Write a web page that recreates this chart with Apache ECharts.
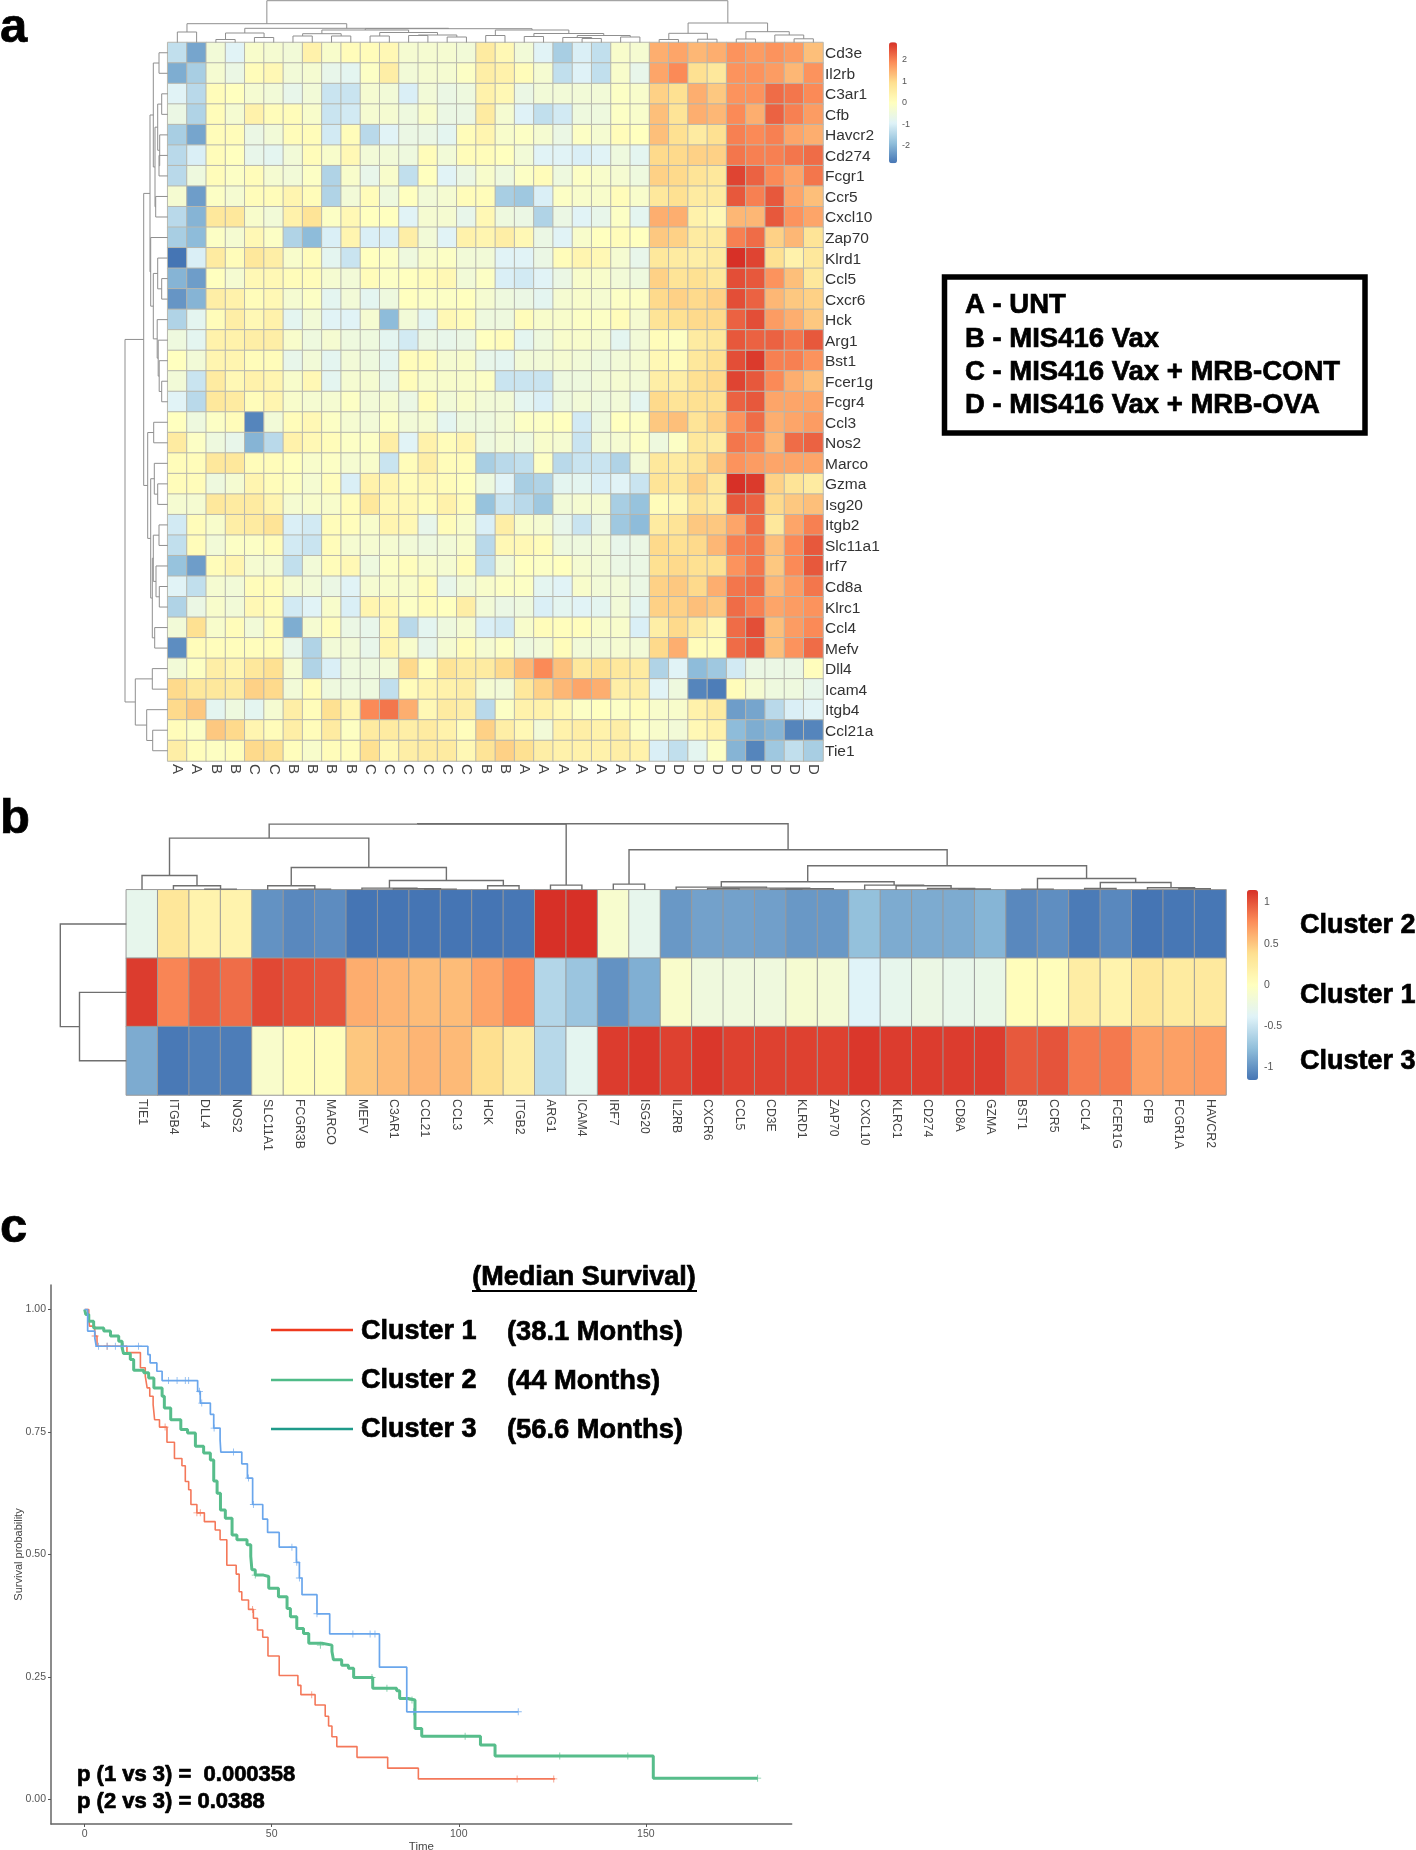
<!DOCTYPE html>
<html><head><meta charset="utf-8">
<script src="https://cdn.jsdelivr.net/npm/echarts@6/dist/echarts.min.js"></script>
<style>html,body{margin:0;padding:0;background:#fff}#c{width:1416px;height:1850px}</style>
</head><body><div id="c"></div>
<script>
// ---------- DATA: panel a ----------
const genesA=['Cd3e','Il2rb','C3ar1','Cfb','Havcr2','Cd274','Fcgr1','Ccr5','Cxcl10','Zap70','Klrd1','Ccl5','Cxcr6','Hck','Arg1','Bst1','Fcer1g','Fcgr4','Ccl3','Nos2','Marco','Gzma','Isg20','Itgb2','Slc11a1','Irf7','Cd8a','Klrc1','Ccl4','Mefv','Dll4','Icam4','Itgb4','Ccl21a','Tie1'];
const samplesA=['A','A','B','B','C','C','B','B','B','B','C','C','C','C','C','C','B','B','A','A','A','A','A','A','A','D','D','D','D','D','D','D','D','D'];
const valuesA=[
[-1.3,-2.2,-.4,-.9,-.2,-.3,-.4,.4,-.2,.1,.1,.2,-.3,-.3,-.3,-.4,.6,.2,-.4,-.9,-1.6,-1,-1.3,-.2,-.3,1.5,1.6,1.4,1.5,1.8,1.7,1.8,1.7,1.3],
[-2.1,-1.6,-.3,-.6,.1,.2,-.4,-.3,-.7,-.8,-.1,.5,-.4,-.3,-.3,-.1,.5,.4,.1,-.3,-1.3,-.95,-1.3,-.2,-.7,1.6,1.9,.9,.7,1.8,1.8,1.7,1.4,1.8],
[-.9,-1.4,.1,0,-.3,-.4,-.7,-.4,-1.2,-1.2,-.3,-.4,-1,-.4,-.6,-.5,.4,.2,-.6,-.4,-.4,-.4,-.4,-.1,-.2,1.1,.9,1.5,1.2,1.8,1.8,2.2,2.1,1.9],
[-.6,-1.5,.1,-.3,.4,.1,.1,-.2,-1.2,-1.1,-.3,-.3,-.5,-.2,-.6,-.6,.6,-.3,-.95,-1.3,-1.1,-.5,-.5,-.1,-.2,1.3,.8,1.5,1.4,1.9,1.5,2.3,2,1.7],
[-1.6,-2.2,.1,.1,-.6,-.4,.1,.1,-1.1,.1,-1.4,-.9,-.6,-.6,-.8,.1,.3,-.2,-.1,-.3,-.6,-.1,-.3,.1,0,1.3,.9,.6,.9,2,1.9,2,1.6,1.5],
[-1.4,-1,.1,0,-.7,-.8,-.4,.1,-.2,.2,-.4,-.4,-.5,.1,-.4,.1,.1,0,-.4,-.9,-.9,-1,-.9,-.5,-.8,1,1,1.1,1.1,2.1,2,2,2.1,2.2],
[-1.4,-.5,.1,-.1,.1,-.3,-.4,-.1,-1.5,-.2,-.7,-.2,-1.3,0,-.9,-.6,-.2,-.5,-.1,.1,-.5,-.1,-.2,-.3,-.5,1.1,1,.8,.7,2.6,2.3,1.9,1.6,2.1],
[-.3,-2.3,-.1,-.3,.1,.1,.3,.1,-1.5,-.4,.1,-.5,0,-.4,-.3,.1,.1,-1.6,-1.7,-1,-.1,-.2,-.2,.1,-.2,.7,.9,.6,.6,2.4,2,2.4,1.6,1.3],
[-1.4,-2,.7,.7,-.2,-.4,.4,.8,-.1,.2,0,0,-.9,-.3,-.3,-.7,.2,-.5,-.6,-1.5,-.6,-.9,-.7,-.1,-.8,1.5,1.5,.4,.2,1.4,1.4,2.4,1.8,1.6],
[-1.6,-1.9,-.1,-.3,.2,-.1,-1.5,-1.9,-1,.3,-1,-1,.5,-.4,-.9,.4,.3,.5,.2,-.6,-.9,-.2,0,.1,0,1.2,1.1,.6,.6,2,2.2,1.1,1.4,.8],
[-2.8,-1,.6,.1,.7,.5,-.2,.1,-.8,-1.2,0,-.1,-.5,-.2,-.1,-.4,-.4,-.9,-.9,-.6,.1,.3,.2,-.3,-.7,.7,.6,.5,.6,2.8,2.6,.9,.4,.7],
[-2,-2.3,0,-.3,.2,.2,.1,.1,-.3,-.4,.1,-.1,0,.1,.2,-.4,-.1,-1,-1.1,-.9,-.6,-.2,-.2,-.4,-.5,1.1,.8,.9,.7,2.5,2.4,1.8,1.3,.7],
[-2.4,-2,.5,.4,.1,.2,-.3,-.1,-.8,-.4,-.8,-.5,0,-.1,-.1,0,-.3,-.5,-.6,-.8,-.3,-.2,-.3,-.1,-.1,1,1.1,1,1.1,2.5,2.3,1.4,1.2,1.1],
[-1.5,-.8,.1,.5,.2,.4,-.8,-.4,-.9,-.9,-.3,-1.9,-.4,-.8,.2,.1,-.5,-.5,.1,-.2,-.2,-.1,-.1,.1,-.3,.8,.9,1,1,2.3,2.5,1.7,1.5,1.2],
[-.5,-.8,.4,.4,.5,.5,-.2,-.5,-.3,-.5,-.5,-.8,-1.1,-.6,-.7,-.6,0,.1,-.8,-.5,-.2,-.2,-.3,-.8,-.4,.1,-.05,.6,.7,2.4,2.3,2.3,2.1,2.4],
[0,-.4,.3,.3,.1,.1,-.7,-.4,-.8,-.4,-.5,-.8,.1,.1,-.3,-.2,-.7,-.8,-.4,-.4,-.3,-.4,-.5,-.4,-.3,.2,.1,.7,.9,2.5,2.7,2,2,1.8],
[-.4,-1.2,.6,.2,.4,.3,-.2,.2,-.8,-.3,-.3,-.7,.1,-.2,-.2,-.2,-.1,-1.2,-1.2,-1.2,-.5,-.5,-.4,-.3,-.4,.5,.5,.9,1,2.6,2.4,1.9,1.5,1.3],
[-.9,-1.4,.7,.6,.1,.3,-.2,-.3,-.3,-.1,-.4,-.3,-.6,.1,-.4,-.2,-.4,-.4,-.8,-1,-.5,-.4,-.5,-.4,-.8,1,.8,.9,.9,2.3,2.4,1.6,1.6,1.6],
[0,-.5,-.1,.1,-2.6,-.4,.1,.2,-.1,-.3,-.4,-.1,-.4,-.3,-.8,-.5,-.5,-.4,-.1,-.1,0,-1.1,-.5,0,-.1,1.2,1.3,.8,1.1,1.8,2.2,1.5,1.6,1.7],
[.6,-.1,-.5,-.7,-2,-1.4,.4,.2,.1,-.1,-.1,.5,-.9,.4,.1,.3,-.5,-.4,-.5,-.2,-.3,-1.2,-.4,-.3,-.1,-.5,-.1,.7,.6,2.1,2,1.4,2.2,2.3],
[.1,.1,.7,.7,.1,.1,0,-.2,-.1,-.3,-.2,-1.2,.1,.5,.1,.1,-1.6,-1.4,-1.3,-.1,-1.4,-1.2,-1.2,-1.5,-.4,.7,.6,.8,1.2,1.8,1.7,1.6,1.6,1.6],
[.1,.1,-.5,-.3,.3,.1,-.05,-.3,.05,-1,.4,.3,.1,.2,.1,0,-.5,-.9,-1.6,-1.5,-.8,-.8,-1,-.9,-1.2,.8,.7,1.1,.7,2.8,2.7,1.1,.8,.6],
[-.3,-.3,.7,.6,.6,.3,-.3,-.2,-.2,.1,.7,.2,.2,.1,.4,.1,-1.8,-1.2,-1.4,-1.7,-.4,-.3,-.3,-1.6,-1.8,.1,.2,.8,.6,2.4,2.3,1,1.2,1.3],
[-1.1,.1,-.2,.5,.6,.8,-1,-1.1,.1,.05,-.2,.3,.2,-.7,.1,-.2,-1,.5,-.2,-.3,-.7,-1.2,-.6,-1.7,-1.9,.6,.8,1.2,1.2,1.6,2.2,.7,1.6,2],
[-1.3,.1,-.4,-.1,-.1,.1,-1.1,-1.2,.1,-.3,-.3,-.3,-.4,-.5,-.4,-.2,-1.4,.2,.2,.1,-.5,-.5,-.4,-.7,-.6,1,.9,1,1.4,2,2.1,1.3,1.9,2.4],
[-1.8,-2.3,.1,.3,-.3,-.3,-1.3,-.4,.1,.2,-.5,-.1,.05,-.2,-.3,.1,-1.3,-.4,0,-.1,0,-.3,-.4,-.6,-.6,.9,1,.9,.9,1.8,2.1,1.2,1.9,2.4],
[-.9,-1.3,-.3,-.4,.1,.1,-.3,-.4,-.6,-.9,-.3,-.2,-.2,.1,-.7,-.4,-.2,-.1,-.1,-.8,-.9,-.2,-.4,-.4,-.6,1.1,1.2,1,1.5,2.1,2.2,1.4,1.7,2.1],
[-1.5,-.6,-.2,-.4,.2,.1,-1.1,-.9,-.2,-1,.3,.2,-.1,.1,0,.5,-.4,-.6,-.5,-1,-.8,-.9,-.8,-.4,-.8,1.1,1.1,1.3,1.2,2.2,2,1.6,1.7,1.8],
[-.4,.9,-.2,.1,-.4,.1,-2.1,-.3,.05,-.6,-.7,.2,-1.4,-.8,-.5,-.3,-1,-1.1,-.2,.1,.05,.05,-.2,-.2,-1,.5,1,.6,.2,2.2,2.5,1.3,1.7,1.9],
[-2.5,.1,.05,.05,.05,.1,-.7,-1.5,-.4,-.4,-.7,.3,-.2,-.7,-.3,.1,-.3,-.1,-.5,-.4,.1,-.4,-.4,-.3,-.4,1,1.5,.1,.1,2.2,2.4,1.3,1.8,2.2],
[-.4,-.05,.5,.3,.7,.9,-.3,-1.5,-1,-.5,-.5,-.4,1,.05,.8,.6,.6,1,1.4,1.9,1.3,.7,.9,.7,.6,-1.5,-.9,-1.9,-1.7,-1.1,-.6,-.6,-.6,.05],
[1,.7,.7,.6,1.1,1,-.4,.1,-.5,-.5,-.5,-1.3,.1,.3,.4,.5,-.3,-.4,.7,1.1,1.4,1.6,1.5,.5,.5,-.9,-.5,-2.6,-2.7,.1,-.3,-.5,-.5,-.7],
[1,1.2,-.8,-.5,-.8,-.3,.5,.1,.9,.3,1.9,2.1,1.5,.2,.6,.5,-1.4,-.1,.4,.4,.2,-.1,0,-.1,.05,-.2,-.2,.4,.6,-2.3,-2.2,-1.4,-1,-.9],
[.1,-.1,1.2,1,.3,.1,.5,.1,.6,-.05,.6,.6,.5,.6,.4,.05,1.1,.5,.2,-.4,.4,.5,.4,.5,-.1,-.2,-.4,.2,.4,-1.9,-2.1,-2,-2.6,-2.6],
[.5,.05,-.05,.05,1,.9,.05,-.2,.1,.05,.9,.2,.5,.6,.6,.2,.8,1.1,.9,.5,.4,.4,.4,.5,.4,-1,-1.3,-.8,-.1,-2,-2.6,-1.7,-1.3,-1.6]
];
// dendrograms as nested [height, left, right]; a bare number is a leaf index
const colTreeA=[41.8,
 [18.8,[10.5,0,1],
  [14.2,[9.5,[3,2,3],[5,4,5]],
   [13.8,
    [12.5,[8.8,[6.5,6,7],[6.5,8,9]],[10,[6.5,10,11],[7.5,[7,12,13],[5.5,14,15]]]],
    [12.5,[7,16,17],[9,[6,18,19],[7,[5,20,[4,21,22]],[5.5,23,24]]]]]]],
 [19.5,[9.2,[3,25,26],[3.3,27,28]],[10.8,[3.5,29,30],[7.5,31,[3.7,32,33]]]]];
const rowTreeA=[42.7,
 [24,
  [17.7,
   [14.4,[8.7,0,1],[12.7,[10,[6,2,3],[8,4,[8.7,5,6]]],[12,7,8]]],
   [17,9,[14.4,[10,10,[6,11,12]],[10.5,13,[9.5,14,[8.5,15,[6,16,17]]]]]]],
  [20,[14,18,19],[17,[13.4,20,[10,21,22]],[15.4,[14.4,[8.7,23,24],[11.7,25,[8.4,26,27]]],[13,28,29]]]]],
 [32.4,[15.4,30,31],[21,32,[15,33,34]]]];
const legendTicksA=[-2,-1,0,1,2];
const samplesKey=['A - UNT','B - MIS416 Vax','C - MIS416 Vax + MRB-CONT','D - MIS416 Vax + MRB-OVA'];

// ---------- DATA: panel b ----------
const genesB=['TIE1','ITGB4','DLL4','NOS2','SLC11A1','FCGR3B','MARCO','MEFV','C3AR1','CCL21','CCL3','HCK','ITGB2','ARG1','ICAM4','IRF7','ISG20','IL2RB','CXCR6','CCL5','CD3E','KLRD1','ZAP70','CXCL10','KLRC1','CD274','CD8A','GZMA','BST1','CCR5','CCL4','FCER1G','CFB','FCGR1A','HAVCR2'];
const clustersB=['Cluster 2','Cluster 1','Cluster 3'];
const cluster2=[-.3,.3,.15,.15,-1,-1.05,-1.03,-1.15,-1.15,-1.15,-1.15,-1.15,-1.14,1.15,1.15,-.1,-.3,-.97,-.92,-.92,-.93,-.97,-.97,-.75,-.87,-.87,-.87,-.82,-1.05,-1.02,-1.12,-1.05,-1.15,-1.14,-1.14];
const cluster1=[1.1,.8,.95,.9,1.05,1.02,1,.62,.58,.55,.55,.66,.78,-.6,-.72,-1,-.85,-.08,-.2,-.2,-.2,-.12,-.15,-.38,-.3,-.25,-.28,-.27,.03,.03,.22,.15,.3,.25,.27];
const cluster3=[-.87,-1.13,-1.1,-1.11,-.08,.03,.03,.5,.55,.58,.56,.38,.22,-.58,-.33,1.1,1.12,1.08,1.12,1.08,1.08,1.08,1.08,1.12,1.1,1.1,1.1,1.1,.98,1,.85,.85,.68,.68,.7];
const colTreeB=[66,
 [65.7,
  [51.7,
   [14.3,0,[4,1,[.7,2,3]]],
   [22.3,[4,4,[.7,5,6]],[9.3,[1.7,7,[1,8,[.7,9,10]]],[4,11,12]]]],
  [4.7,13,14]],
 [40,[5.7,15,16],
  [24,
   [8,[2.7,17,[1.7,[1.2,18,19],[1,[.7,20,21],22]]],[4.7,23,[4,24,[1.3,25,[.8,26,27]]]]],
   [11.3,[.7,28,29],[7.3,[1.3,30,31],[2,32,[1,33,34]]]]]]];
const rowTreeB=[66,0,[46.8,1,2]];
const legendTicksB=[-1,-.5,0,.5,1];

// ---------- DATA: panel c ----------
const curve1=[[0,1],[1.1,.98],[1.3,.966],[2.7,.946],[3.3,.925],[11.3,.912],[14.9,.881],[16.2,.864],[16.7,.84],[17.4,.823],[18.3,.806],[18.7,.775],[20,.76],[22,.729],[24,.696],[26,.681],[26.9,.649],[27.8,.632],[28.4,.602],[30,.585],[32,.567],[34.9,.55],[36.2,.53],[38,.478],[40.5,.46],[41.3,.424],[42,.407],[43.8,.388],[45.1,.37],[46.2,.346],[47.6,.331],[49,.293],[52,.253],[57,.233],[57.8,.214],[61.6,.193],[64.3,.17],[65.2,.15],[66.1,.128],[67.4,.108],[72.8,.086],[81,.064],[89.2,.042],[125.7,.042]];
const curve2=[[0,1],[.3,.99],[1.1,.976],[2.4,.962],[5.1,.956],[6.9,.946],[9.1,.935],[10,.922],[10.4,.91],[12.2,.898],[13.1,.876],[15.8,.871],[17.1,.86],[18.5,.84],[20.7,.823],[21.3,.799],[23,.775],[25.7,.755],[27.5,.748],[29.6,.721],[31.8,.707],[33.6,.693],[34.5,.65],[35.4,.625],[36.3,.591],[37.6,.574],[39.4,.54],[40.7,.53],[43.4,.52],[44.4,.496],[44.7,.469],[45.6,.458],[47.8,.455],[49.2,.431],[51.8,.414],[54.1,.39],[55,.373],[56.7,.349],[58.5,.339],[59.9,.319],[63.4,.315],[66.1,.302],[66.5,.285],[68.7,.274],[70.5,.268],[71.9,.249],[77,.227],[83.4,.222],[84.2,.206],[86.5,.203],[88.3,.145],[90.1,.129],[105.8,.111],[109.7,.089],[152,.0435],[179.9,.0435]];
const curve3=[[0,1],[.8,.956],[2.7,.942],[3.1,.925],[16.9,.908],[17.5,.891],[19.3,.874],[20.7,.855],[30.2,.833],[30.9,.809],[33.6,.786],[34.5,.758],[36.2,.734],[36.4,.709],[42,.685],[43.5,.656],[44.9,.602],[47.6,.572],[48.9,.545],[52,.515],[56.6,.484],[57.4,.452],[58.1,.418],[62.1,.379],[65.5,.338],[78.8,.27],[86.1,.179],[115.9,.179]];
const censor1=[[2.8,.946],[6,.925],[21.5,.76],[30,.585],[30.9,.585],[44.9,.388],[60.7,.214],[115.6,.042],[125.4,.042]];
const censor2=[[45.6,.458],[63,.315],[76.8,.249],[80.8,.227],[87.5,.203],[101.7,.129],[127,.089],[145.2,.089],[179.9,.0435]];
const censor3=[[3.7,.925],[6,.925],[8.2,.925],[10.4,.925],[14.4,.925],[22.4,.855],[24.7,.855],[26.9,.855],[27.8,.855],[30.7,.833],[31.3,.809],[34.6,.758],[39.8,.709],[43.8,.656],[45.1,.602],[55.4,.515],[56.7,.484],[57.4,.452],[62.1,.379],[71.7,.338],[76.3,.338],[77.6,.338],[87.9,.179],[115.9,.179]];
const timeTicks=[0,50,100,150];
const probTicks=[0,.25,.5,.75,1];
const legendRows=[['Cluster 1','(38.1 Months)'],['Cluster 2','(44 Months)'],['Cluster 3','(56.6 Months)']];
const pTexts=['p (1 vs 3) =  0.000358','p (2 vs 3) = 0.0388'];

// ---------- helpers ----------
const FONT='"Liberation Sans",Arial,sans-serif';
const RDYLBU=['#4575B4','#91BFDB','#E0F3F8','#FFFFBF','#FEE090','#FC8D59','#D73027'];
function flatten(node,out){
  if(typeof node==='number') return {p:node+.5,h:0};
  const l=flatten(node[1],out), r=flatten(node[2],out);
  out.push([l.p,l.h,r.p,r.h,node[0]]);
  return {p:(l.p+r.p)/2,h:node[0]};
}
function treeData(t){const o=[];flatten(t,o);return o;}
function dendro(tree,xi,yi,horizontal,color,width){
  return {type:'custom',coordinateSystem:'cartesian2d',xAxisIndex:xi,yAxisIndex:yi,silent:true,clip:false,
    data:treeData(tree),
    renderItem:function(p,api){
      const a=api.value(0),ah=api.value(1),b=api.value(2),bh=api.value(3),h=api.value(4);
      const pts=(horizontal?[[ah,a],[h,a],[h,b],[bh,b]]:[[a,ah],[a,h],[b,h],[b,bh]]).map(q=>api.coord(q));
      return {type:'polyline',shape:{points:pts},style:{stroke:color,lineWidth:width,fill:null}};
    }};
}
const grids=[],xAxes=[],yAxes=[],series=[];
function addGrid(g,x,y){grids.push(Object.assign({outerBoundsMode:'none'},g));xAxes.push(Object.assign({gridIndex:grids.length-1},x));yAxes.push(Object.assign({gridIndex:grids.length-1},y));return grids.length-1;}
const hidden=(min,max,inv)=>({type:'value',show:false,min,max,inverse:!!inv,splitLine:{show:false}});
function heatAxes(names,opt){return Object.assign({type:'category',data:names,axisLine:{show:false},axisTick:{show:false},splitLine:{show:false},splitArea:{show:false}},opt);}

// ---------- panel a ----------
const AX=167.7,AY=42.5,AW=655.3,AH=718.5;
const gA=addGrid({left:AX,top:AY,width:AW,height:AH},
  heatAxes(samplesA,{position:'bottom',axisLabel:{interval:0,rotate:-90,fontSize:15,color:'#444',margin:3,fontFamily:FONT}}),
  heatAxes(genesA,{position:'right',inverse:true,axisLabel:{show:false}}));
// gene names sit on their own axis, a pixel below the cell centres as in the original
addGrid({left:AX,top:AY+1.2,width:AW,height:AH},hidden(0,1),
  heatAxes(genesA,{position:'right',inverse:true,axisLabel:{interval:0,fontSize:15.5,color:'#333',margin:2,fontFamily:FONT}}));
const dataA=[];valuesA.forEach((r,y)=>r.forEach((v,x)=>dataA.push([x,y,v])));
series.push({type:'heatmap',xAxisIndex:gA,yAxisIndex:gA,data:dataA,silent:true,itemStyle:{borderColor:'#b7b7ae',borderWidth:1}});
const hmA=series.length-1;
const gAc=addGrid({left:AX,top:0,width:AW,height:AY},hidden(0,34),hidden(0,AY));
series.push(dendro(colTreeA,gAc,gAc,false,'#8f8f8f',1));
const gAr=addGrid({left:AX-45,top:AY,width:45,height:AH},hidden(0,45,true),hidden(0,35,true));
series.push(dendro(rowTreeA,gAr,gAr,true,'#8f8f8f',1));
addGrid({left:889,top:42.3,width:8,height:121},hidden(0,1),
  {type:'value',position:'right',min:-2.8,max:2.8,interval:.4,splitLine:{show:false},axisLine:{show:false},axisTick:{show:false},
   axisLabel:{customValues:legendTicksA,fontSize:9,color:'#555',margin:5,fontFamily:FONT}});

// ---------- panel b ----------
const BX=126.3,BY=889.8,BW=1099.7,BH=205.2;
const gB=addGrid({left:BX,top:BY,width:BW,height:BH},
  heatAxes(genesB,{position:'bottom',axisLabel:{interval:0,rotate:-90,fontSize:12.3,color:'#444',margin:4,fontFamily:FONT}}),
  heatAxes(clustersB,{inverse:true,axisLabel:{show:false}}));
const dataB=[];[cluster2,cluster1,cluster3].forEach((r,y)=>r.forEach((v,x)=>dataB.push([x,y,v])));
series.push({type:'heatmap',xAxisIndex:gB,yAxisIndex:gB,data:dataB,silent:true,itemStyle:{borderColor:'#999',borderWidth:1}});
const hmB=series.length-1;
const gBc=addGrid({left:BX,top:BY-70,width:BW,height:70},hidden(0,35),hidden(0,70));
series.push(dendro(colTreeB,gBc,gBc,false,'#6f6f6f',1.4));
const gBr=addGrid({left:BX-70,top:BY,width:70,height:BH},hidden(0,70,true),hidden(0,3,true));
series.push(dendro(rowTreeB,gBr,gBr,true,'#6f6f6f',1.4));
addGrid({left:1247,top:890,width:11,height:190},hidden(0,1),
  {type:'value',position:'right',min:-1.15,max:1.15,interval:.05,splitLine:{show:false},axisLine:{show:false},axisTick:{show:false},
   axisLabel:{customValues:legendTicksB,fontSize:10.5,color:'#555',margin:6,fontFamily:FONT}});

// ---------- panel c ----------
const axisStyle={show:true,onZero:false,lineStyle:{color:'#666',width:1.5}};
const gK=addGrid({left:51,top:1285,width:740.7,height:539},
  {type:'value',min:-9,max:189,interval:9,splitLine:{show:false},axisLine:axisStyle,
   axisTick:{show:true,length:3,customValues:timeTicks,lineStyle:{color:'#555'}},
   axisLabel:{customValues:timeTicks,fontSize:10.5,color:'#555',margin:5,fontFamily:FONT},
   name:'Time',nameLocation:'middle',nameGap:12,nameTextStyle:{fontSize:11.5,color:'#444',fontFamily:FONT}},
  {type:'value',min:-.05,max:1.05,interval:.05,splitLine:{show:false},axisLine:axisStyle,
   axisTick:{show:true,length:3,customValues:probTicks,lineStyle:{color:'#555'}},
   axisLabel:{customValues:probTicks,formatter:v=>v.toFixed(2),fontSize:10.5,color:'#555',margin:5,fontFamily:FONT},
   name:'Survival probability',nameLocation:'middle',nameGap:27,nameMoveOverlap:false,nameRotate:90,nameTextStyle:{fontSize:11,color:'#444',fontFamily:FONT}});
const PLUS='path://M4.4 0h1.2v4.4H10v1.2H5.6V10H4.4V5.6H0V4.4h4.4z';
[[curve1,censor1,'#f4785a',1.6],[curve2,censor2,'#57bd8b',3],[curve3,censor3,'#6aa6ec',1.7]].forEach(([c,m,col,w])=>{
  series.push({type:'line',xAxisIndex:gK,yAxisIndex:gK,data:c,step:'end',showSymbol:false,silent:true,lineStyle:{color:col,width:w}});
  series.push({type:'scatter',xAxisIndex:gK,yAxisIndex:gK,data:m,symbol:PLUS,symbolSize:7,silent:true,itemStyle:{color:col}});
});

// ---------- annotations ----------
const txt=(x,y,text,size,extra)=>({type:'text',x,y,silent:true,style:Object.assign({text,font:'bold '+size+'px '+FONT,fill:'#000',stroke:'#000',lineWidth:.7,verticalAlign:'middle',align:'left'},extra||{})});
const line=(x1,x2,y,color,w)=>({type:'line',silent:true,shape:{x1,y1:y,x2,y2:y},style:{stroke:color,lineWidth:w}});
const graphics=[
  txt(0,28,'a',49),txt(0,819,'b',49),txt(0,1228,'c',49),
  {type:'rect',silent:true,shape:{x:944.5,y:277,width:420.5,height:156},style:{fill:'#fff',stroke:'#000',lineWidth:5.5}}
];
samplesKey.forEach((s,i)=>graphics.push(txt(965,[305.5,339,372.5,405.5][i],s,27.5)));
clustersB.forEach((s,i)=>graphics.push(txt(1300,[926,996,1062][i],s,27)));
graphics.push(txt(584,1278,'(Median Survival)',27,{align:'center'}));
graphics.push(line(472,697,1291,'#000',2));
const legCol=['#ee3a1e','#4fbb88','#1f9a8a'];
legendRows.forEach((r,i)=>{
  const ly=[1330,1380,1429][i], ty=[1332,1381,1430][i];
  graphics.push(line(271,353,ly,legCol[i],2.4));
  graphics.push(txt(361,ty,r[0],27));
  graphics.push(txt(507,ty,r[1],27.3));
});
pTexts.forEach((s,i)=>graphics.push(txt(77,[1775,1802][i],s,22)));

const chart=echarts.init(document.getElementById('c'),null,{renderer:'canvas',width:1416,height:1850});
chart.setOption({
  animation:false,backgroundColor:'#fff',textStyle:{fontFamily:FONT},
  grid:grids,xAxis:xAxes,yAxis:yAxes,series,graphic:graphics,
  visualMap:[
    {type:'continuous',seriesIndex:hmA,min:-2.8,max:2.8,left:889,top:42.3,itemWidth:8,itemHeight:121,padding:0,calculable:false,hoverLink:false,realtime:false,text:null,inRange:{color:RDYLBU}},
    {type:'continuous',seriesIndex:hmB,min:-1.15,max:1.15,left:1247,top:890,itemWidth:11,itemHeight:190,padding:0,calculable:false,hoverLink:false,realtime:false,text:null,inRange:{color:RDYLBU}}
  ]
});
</script></body></html>
